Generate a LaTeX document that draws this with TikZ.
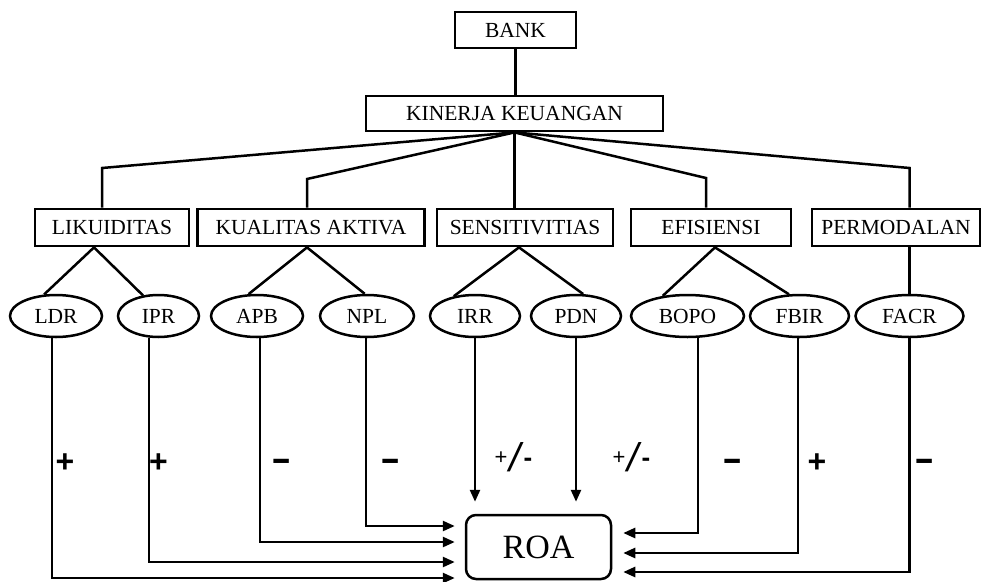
\documentclass[tikz,border=0pt]{standalone}
\usepackage{fontspec}
\usepackage{graphicx}
\setmainfont{Liberation Serif}
\newfontfamily\signfont{Liberation Sans}
\usetikzlibrary{arrows.meta,shapes.geometric}
\begin{document}
\begin{tikzpicture}[x=1pt,y=-1pt,
  boxnode/.style={draw,line width=2.8pt,rectangle,inner sep=0pt,minimum height=37pt,font=\fontsize{21.5}{24}\selectfont},
  ell/.style={draw,line width=2.5pt,ellipse,inner sep=0pt,minimum height=42pt,font=\fontsize{21.5}{24}\selectfont},
  conn/.style={line width=2.5pt},
  arr/.style={line width=2.5pt,-{Triangle[length=12pt,width=10pt]}},
  sgn/.style={font=\signfont\bfseries\fontsize{32}{32}\selectfont,inner sep=0pt},
  pmsign/.style={font=\signfont,inner sep=0pt}
]
\useasboundingbox (0,0) rectangle (982,581);
\newcommand{\mysgnminus}{\scalebox{1.9}[1.1]{-}}
\newcommand{\mypm}{\raisebox{7pt}{\fontsize{22}{22}\selectfont+}\hspace{2pt}{\fontsize{40}{40}\selectfont\itshape/}\hspace{3pt}\raisebox{5pt}{\fontsize{26}{26}\selectfont\bfseries-}}

% boxes
\node[boxnode,minimum width=121pt,minimum height=36pt] (bank) at (515.5,30) {BANK};
\node[boxnode,minimum width=297pt,minimum height=35pt] (kin) at (514.5,113.5) {KINERJA KEUANGAN};
\node[boxnode,minimum width=154pt] (lik) at (112,227.5) {LIKUIDITAS};
\node[boxnode,minimum width=227pt] (kual) at (311,227.5) {KUALITAS AKTIVA};
\node[boxnode,minimum width=176pt] (sens) at (525,227.5) {SENSITIVITIAS};
\node[boxnode,minimum width=160pt] (efi) at (711,227.5) {EFISIENSI};
\node[boxnode,minimum width=168pt] (perm) at (896,227.5) {PERMODALAN};

% ellipses
\node[ell,minimum width=92pt] (ldr) at (56,316) {LDR};
\node[ell,minimum width=81pt] (ipr) at (158.5,316) {IPR};
\node[ell,minimum width=92pt] (apb) at (257,316) {APB};
\node[ell,minimum width=94pt] (npl) at (367,316) {NPL};
\node[ell,minimum width=90pt] (irr) at (475,316) {IRR};
\node[ell,minimum width=90pt] (pdn) at (576,316) {PDN};
\node[ell,minimum width=113pt] (bopo) at (687.5,316) {BOPO};
\node[ell,minimum width=99pt] (fbir) at (799.5,316) {FBIR};
\node[ell,minimum width=108pt] (facr) at (909.5,316) {FACR};

% ROA
\node[draw,line width=2.5pt,rounded corners=10pt,minimum width=145pt,minimum height=64pt,inner sep=0pt,font=\fontsize{34}{36}\selectfont] (roa) at (538.5,547) {ROA};

% tree connectors
\coordinate (e1) at (102,168);
\coordinate (e2) at (307,179);
\coordinate (e4) at (706,178);
\coordinate (e5) at (909.5,168);
\draw[conn] (bank.south) -- (bank.south |- kin.north);
\draw[conn] (kin.south) -- (e1) -- (e1 |- lik.north);
\draw[conn] (kin.south) -- (e2) -- (e2 |- kual.north);
\draw[conn] (kin.south) -- (kin.south |- sens.north);
\draw[conn] (kin.south) -- (e4) -- (e4 |- efi.north);
\draw[conn] (kin.south) -- (e5) -- (e5 |- perm.north);

\draw[conn] ([xshift=-18pt]lik.south) -- (ldr.119);
\draw[conn] ([xshift=-18pt]lik.south) -- (ipr.127);
\draw[conn] ([xshift=-4pt]kual.south) -- (apb.111);
\draw[conn] ([xshift=-4pt]kual.south) -- (npl.96);
\draw[conn] ([xshift=-6pt]sens.south) -- (irr.137);
\draw[conn] ([xshift=-6pt]sens.south) -- (pdn.72);
\draw[conn] ([xshift=4pt]efi.south) -- (bopo.141);
\draw[conn] ([xshift=4pt]efi.south) -- (fbir.116);
\draw[conn] (e5 |- perm.south) -- (facr.north);

% arrow rows
\coordinate (y1) at (0,526);
\coordinate (y2) at (0,542);
\coordinate (y3) at (0,562);
\coordinate (y4) at (0,578);
\coordinate (z1) at (0,533);
\coordinate (z2) at (0,553);
\coordinate (z3) at (0,572);

\draw[arr,shorten >=10pt] ([xshift=-4pt]ldr.south) |- (roa.west |- y4);
\draw[arr,shorten >=10pt] ([xshift=-9.5pt]ipr.south) |- (roa.west |- y3);
\draw[arr,shorten >=10pt] ([xshift=3pt]apb.south) |- (roa.west |- y2);
\draw[arr,shorten >=10pt] ([xshift=-1pt]npl.south) |- (roa.west |- y1);
\draw[arr,shorten >=12pt] (irr.south) -- (irr.south |- roa.north);
\draw[arr,shorten >=12pt] (pdn.south) -- (pdn.south |- roa.north);
\draw[arr,shorten >=11pt] ([xshift=10.5pt]bopo.south) |- (roa.east |- z1);
\draw[arr,shorten >=11pt] ([xshift=-1.5pt]fbir.south) |- (roa.east |- z2);
\draw[arr,shorten >=11pt] (facr.south) |- (roa.east |- z3);

% signs
\node[sgn] (s1) at (65,463) {+};
\node[sgn] (s2) at (158.5,463) {+};
\node[sgn] (s3) at (282,465) {\mysgnminus};
\node[sgn] (s4) at (390.5,465) {\mysgnminus};
\node[pmsign] (s5) at (513.5,457) {\mypm};
\node[pmsign] (s6) at (631.5,457) {\mypm};
\node[sgn] (s7) at (733,465) {\mysgnminus};
\node[sgn] (s8) at (817,463) {+};
\node[sgn] (s9) at (925,465) {\mysgnminus};
\end{tikzpicture}
\end{document}
